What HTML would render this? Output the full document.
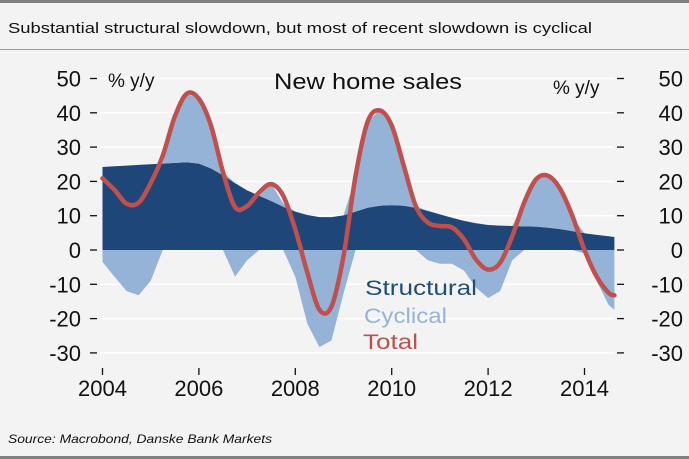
<!DOCTYPE html>
<html><head><meta charset="utf-8"><style>
html,body{margin:0;padding:0;background:#f3f3f3;}
svg{display:block;font-family:"Liberation Sans",sans-serif;}
</style></head><body>
<svg id="chart" width="689" height="459" viewBox="0 0 689 459">
<rect x="0" y="0" width="689" height="459" fill="#f3f3f3"/>
<rect x="0" y="0" width="689" height="3" fill="#808080"/>
<rect x="0" y="456" width="689" height="3" fill="#808080"/>
<rect x="0" y="49" width="689" height="1" fill="#9a9a9a"/>
<text x="8" y="33" font-size="15" fill="#111" textLength="584" lengthAdjust="spacingAndGlyphs">Substantial structural slowdown, but most of recent slowdown is cyclical</text>
<text x="8" y="443" font-size="12" font-style="italic" fill="#111" textLength="264" lengthAdjust="spacingAndGlyphs">Source: Macrobond, Danske Bank Markets</text>
<g id="grid"></g>
<g id="areas"></g>
<g id="axes"></g>
<text x="368" y="89" font-size="22" text-anchor="middle" fill="#111" textLength="188" lengthAdjust="spacingAndGlyphs">New home sales</text>
<text x="108" y="87" font-size="19" fill="#111">% y/y</text>
<text x="553" y="94" font-size="19" fill="#111">% y/y</text>
<text x="365" y="295" font-size="21" fill="#1f4e79" textLength="112" lengthAdjust="spacingAndGlyphs">Structural</text>
<text x="364" y="323" font-size="21" fill="#94b3d7" textLength="83" lengthAdjust="spacingAndGlyphs">Cyclical</text>
<text x="363" y="349" font-size="21" fill="#c0504d" textLength="55" lengthAdjust="spacingAndGlyphs">Total</text>
</svg>
<script>
const startYear = 2004, step = 0.25;
const structural = [24.2,24.4,24.6,24.8,25.0,25.2,25.4,25.6,25.2,23.8,21.8,19.5,17.4,15.8,14.3,12.6,11.2,10.2,9.6,9.6,10.1,11.2,12.3,12.9,13.1,12.9,12.3,11.4,10.4,9.4,8.5,7.8,7.3,7.1,7.0,6.9,6.8,6.5,6.1,5.5,4.9,4.4,4.0,3.8];
const cyclical = [-3.5,-7.8,-12,-13.2,-9,0,13.5,20,19,13,1,-7.8,-3,0,5,1,-7.8,-21.5,-28.3,-26.4,-12.7,10,25,28,23,12,0.5,-3,-4,-4,-6,-11,-14,-12,-3,7,14,15,11.6,4,-1,-9,-16,-17.5];
const total = [20.9,17.5,13.5,13.8,19.5,27.5,38.9,45.6,44.1,36.3,22.7,12.5,12.8,16.8,19.2,15.8,6,-6.6,-17.4,-16.5,-1.8,21.6,37.4,40.7,36.3,24.6,12.8,8,7,6.6,3.1,-2.8,-5.7,-3.7,4,13.9,20.7,21.6,17.7,9.9,0,-7.7,-12.5,-13.2];
const yTicks = [50,40,30,20,10,0,-10,-20,-30];
const xTicks = [2004,2006,2008,2010,2012,2014];
const endYear = 2014.62;

const NS='http://www.w3.org/2000/svg';
function xs(t){return 102.5 + (t-2004)*48.2;}
function ys(v){return 250 - v*3.43;}
function el(tag,attrs,parent){const e=document.createElementNS(NS,tag);for(const k in attrs)e.setAttribute(k,attrs[k]);parent.appendChild(e);return e;}
function tOf(i){return Math.min(startYear+i*step,endYear);}
const grid=document.getElementById('grid'),areas=document.getElementById('areas'),axes=document.getElementById('axes');

yTicks.forEach(v=>{
  const g=el('line',{x1:100,x2:614,y1:ys(v),y2:ys(v),stroke:'#ffffff','stroke-width':1.5},grid);
  
  
  const lt=el('line',{x1:90,x2:97,y1:ys(v),y2:ys(v),stroke:'#111','stroke-width':1.3},axes);
  
  
  const rt=el('line',{x1:617,x2:624,y1:ys(v),y2:ys(v),stroke:'#111','stroke-width':1.3},axes);
  
  
  const l=el('text',{x:81,y:ys(v)+8,'font-size':22,'text-anchor':'end',fill:'#111'},axes);
  l.textContent=v;
  
  
  const r=el('text',{x:683,y:ys(v)+8,'font-size':22,'text-anchor':'end',fill:'#111'},axes);
  r.textContent=v;
  
  
});
xTicks.forEach(t=>{
  const tk=el('line',{x1:xs(t),x2:xs(t),y1:368,y2:375,stroke:'#111','stroke-width':1.3},axes);
  
  
  const l=el('text',{x:xs(t),y:396,'font-size':22,'text-anchor':'middle',fill:'#111'},axes);
  l.textContent=t;
  
  
});

let d='M'+xs(tOf(0))+','+ys(0);
structural.forEach((v,i)=>{d+=' L'+xs(tOf(i))+','+ys(v);});
d+=' L'+xs(tOf(structural.length-1))+','+ys(0)+' Z';
const sa=el('path',{d:d,fill:'#1f4678'},areas);



let up='',dn='';
cyclical.forEach((c,i)=>{up+=(i?' L':'M')+xs(tOf(i))+','+ys(structural[i]+Math.max(c,0));});
for(let i=cyclical.length-1;i>=0;i--){up+=' L'+xs(tOf(i))+','+ys(structural[i]);}
const cp=el('path',{d:up+' Z',fill:'#94b3d7'},areas);


dn='M'+xs(tOf(0))+','+ys(0);
cyclical.forEach((c,i)=>{dn+=' L'+xs(tOf(i))+','+ys(Math.min(c,0));});
dn+=' L'+xs(tOf(cyclical.length-1))+','+ys(0)+' Z';
const cn=el('path',{d:dn,fill:'#94b3d7'},areas);



const pts=total.map((v,i)=>[xs(tOf(i)),ys(v)]);
let td='M'+pts[0][0]+','+pts[0][1];
for(let i=0;i<pts.length-1;i++){
  const p0=pts[Math.max(i-1,0)],p1=pts[i],p2=pts[i+1],p3=pts[Math.min(i+2,pts.length-1)];
  const c1=[p1[0]+(p2[0]-p0[0])/6,p1[1]+(p2[1]-p0[1])/6];
  const c2=[p2[0]-(p3[0]-p1[0])/6,p2[1]-(p3[1]-p1[1])/6];
  td+=' C'+c1[0]+','+c1[1]+' '+c2[0]+','+c2[1]+' '+p2[0]+','+p2[1];
}
const tl=el('path',{d:td,fill:'none',stroke:'#c0504d','stroke-width':4.5,'stroke-linecap':'round','stroke-linejoin':'round'},areas);


</script>
</body></html>
